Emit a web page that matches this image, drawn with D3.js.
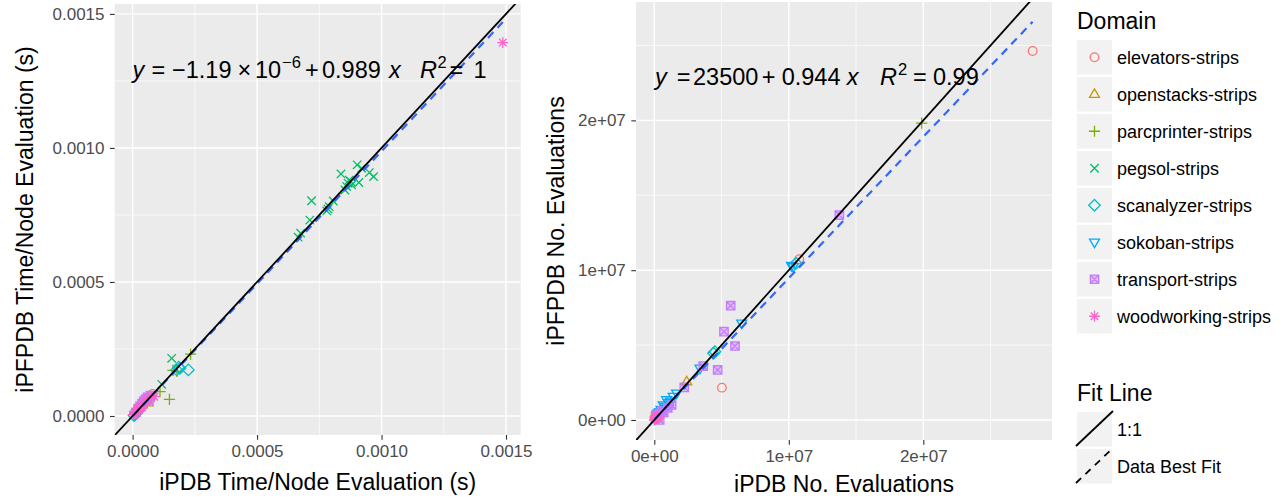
<!DOCTYPE html>
<html>
<head>
<meta charset="utf-8">
<script src="https://cdn.jsdelivr.net/npm/d3@7"></script>
<style>
  body { margin: 0; background: #fff; }
  svg { display: block; font-family: "Liberation Sans", Arial, sans-serif; }
</style>
</head>
<body>
<svg id="chart" width="1288" height="499"></svg>
<script>
"use strict";

// domains (legend order)
const domains = ["elevators-strips", "openstacks-strips", "parcprinter-strips", "pegsol-strips",
                 "scanalyzer-strips", "sokoban-strips", "transport-strips", "woodworking-strips"];
const domainColors = ["#F8766D", "#CD9600", "#7CAE00", "#00BE67", "#00BFC4", "#00A9FF", "#C77CFF", "#FF61CC"];
const domainShapes = ["circle", "triangle", "plus", "cross", "diamond", "triangleDown", "squareCross", "asterisk"];

// left panel: time per node evaluation (s), [iPDB, iPFPDB]
const timeElevators = [[2.0e-5, 2.4e-5], [4.2e-5, 4.0e-5], [6.8e-5, 7.4e-5], [8.0e-5, 8.2e-5]];
const timeOpenstacks = [[2.8e-5, 3.2e-5], [5.0e-5, 5.8e-5], [6.2e-5, 5.0e-5]];
const timeParcprinter = [[2.33e-4, 2.31e-4], [1.78e-4, 1.66e-4], [1.48e-4, 0.62e-4], [1.10e-4, 0.91e-4],
                         [1.62e-4, 1.70e-4], [4.0e-5, 3.0e-5]];
const timePegsol = [[9.02e-4, 9.37e-4], [8.37e-4, 9.03e-4], [9.51e-4, 9.08e-4], [9.68e-4, 8.93e-4],
                    [9.20e-4, 9.24e-4], [8.77e-4, 8.74e-4], [8.66e-4, 8.68e-4], [8.60e-4, 8.56e-4],
                    [9.09e-4, 8.71e-4], [8.53e-4, 8.43e-4], [8.80e-4, 8.62e-4], [8.70e-4, 8.80e-4],
                    [7.19e-4, 8.03e-4], [8.06e-4, 8.02e-4], [7.90e-4, 7.81e-4], [7.80e-4, 7.65e-4],
                    [7.85e-4, 7.72e-4], [7.12e-4, 7.31e-4], [6.75e-4, 6.82e-4], [6.65e-4, 6.67e-4],
                    [1.57e-4, 2.15e-4], [1.17e-4, 1.18e-4]];
const timeScanalyzer = [[1.90e-4, 1.78e-4], [2.24e-4, 1.72e-4], [1.77e-4, 1.72e-4], [1.85e-4, 1.82e-4],
                        [1.2e-5, 0.8e-5], [2.5e-5, 2.2e-5], [0.6e-5, 0.2e-5]];
const timeSokoban = [[1.0e-5, 0.5e-5], [1.8e-5, 1.6e-5], [3.0e-5, 2.6e-5], [4.5e-5, 4.2e-5]];
const timeTransport = [[3.0e-5, 3.6e-5], [4.5e-5, 5.5e-5], [5.2e-5, 6.2e-5], [6.0e-5, 7.0e-5],
                       [7.2e-5, 7.6e-5], [3.8e-5, 4.6e-5], [2.2e-5, 2.8e-5], [6.6e-5, 6.0e-5]];
const timeWoodworking = [[1.487e-3, 1.393e-3], [0.3e-5, 0.5e-5], [0.8e-5, 1.2e-5], [1.4e-5, 1.6e-5],
                         [2.0e-5, 2.4e-5], [2.6e-5, 2.2e-5], [3.2e-5, 3.6e-5], [3.8e-5, 3.4e-5],
                         [4.4e-5, 4.8e-5], [5.4e-5, 5.2e-5], [8.7e-5, 7.2e-5], [1.0e-5, 0.6e-5],
                         [1.8e-5, 1.2e-5], [2.8e-5, 3.0e-5], [6.0e-5, 6.6e-5], [7.4e-5, 6.8e-5]];

// right panel: number of evaluations, [iPDB, iPFPDB]
const evalElevators = [[2.813e7, 2.463e7], [1.078e7, 1.073e7], [0.503e7, 0.216e7], [0.010e7, 0.045e7],
                       [0.002e7, 0.010e7]];
const evalOpenstacks = [[0.241e7, 0.256e7], [0.100e7, 0.105e7], [0.050e7, 0.060e7], [0.020e7, 0.020e7]];
const evalParcprinter = [[1.988e7, 1.981e7], [0.010e7, 0.010e7]];
const evalPegsol = [[0.005e7, 0.005e7], [0.015e7, 0.012e7]];
const evalScanalyzer = [[1.054e7, 1.046e7], [0.451e7, 0.456e7], [0.440e7, 0.445e7], [0.100e7, 0.100e7],
                        [0.030e7, 0.030e7]];
const evalSokoban = [[1.033e7, 1.023e7], [1.020e7, 1.030e7], [0.650e7, 0.645e7], [0.340e7, 0.345e7],
                     [0.166e7, 0.178e7], [0.141e7, 0.156e7], [0.092e7, 0.134e7], [0.067e7, 0.100e7],
                     [0.050e7, 0.070e7], [0.030e7, 0.040e7], [0.120e7, 0.125e7], [0.080e7, 0.090e7],
                     [0.105e7, 0.115e7], [0.040e7, 0.055e7]];
const evalTransport = [[1.376e7, 1.368e7], [0.568e7, 0.763e7], [0.518e7, 0.590e7], [0.600e7, 0.494e7],
                       [0.364e7, 0.360e7], [0.471e7, 0.334e7], [0.223e7, 0.218e7], [0.129e7, 0.100e7],
                       [0.060e7, 0.060e7], [0.040e7, 0.045e7], [0.040e7, 0.000e7], [0.100e7, 0.080e7],
                       [0.020e7, 0.030e7], [0.070e7, 0.050e7]];
const evalWoodworking = [[0.000e7, 0.000e7], [0.010e7, 0.005e7], [0.020e7, 0.015e7], [0.005e7, 0.020e7],
                         [0.030e7, 0.010e7], [0.015e7, 0.025e7], [0.008e7, 0.012e7]];

const timeSeries = [timeElevators, timeOpenstacks, timeParcprinter, timePegsol,
                    timeScanalyzer, timeSokoban, timeTransport, timeWoodworking];
const evalSeries = [evalElevators, evalOpenstacks, evalParcprinter, evalPegsol,
                    evalScanalyzer, evalSokoban, evalTransport, evalWoodworking];

// fitted lines as printed on the chart
const timeFit = {intercept: -1.19e-6, slope: 0.989};
const evalFit = {intercept: 23500, slope: 0.944};

const timeTicks = [0, 0.0005, 0.001, 0.0015];
const timeTickLabels = ["0.0000", "0.0005", "0.0010", "0.0015"];
const timeMinor = [0.00025, 0.00075, 0.00125];
const evalTicks = [0, 1e7, 2e7];
const evalTickLabels = ["0e+00", "1e+07", "2e+07"];
const evalMinor = [0.5e7, 1.5e7, 2.5e7];

const fitLabels = ["1:1", "Data Best Fit"];

const svg = d3.select("#chart");

function shapePath(shape) {
    const p = d3.path();
    switch (shape) {
        case "circle": p.arc(0, 0, 4.3, 0, 2 * Math.PI); break;
        case "triangle": p.moveTo(0, -5.4); p.lineTo(5, 3.2); p.lineTo(-5, 3.2); p.closePath(); break;
        case "triangleDown": p.moveTo(0, 5.4); p.lineTo(5, -3.2); p.lineTo(-5, -3.2); p.closePath(); break;
        case "plus": p.moveTo(-5.6, 0); p.lineTo(5.6, 0); p.moveTo(0, -5.6); p.lineTo(0, 5.6); break;
        case "cross": p.moveTo(-4.2, -4.2); p.lineTo(4.2, 4.2); p.moveTo(-4.2, 4.2); p.lineTo(4.2, -4.2); break;
        case "diamond": p.moveTo(0, -5.8); p.lineTo(5.8, 0); p.lineTo(0, 5.8); p.lineTo(-5.8, 0); p.closePath(); break;
        case "squareCross":
            p.rect(-4.2, -4.2, 8.4, 8.4);
            p.moveTo(-4.2, -4.2); p.lineTo(4.2, 4.2); p.moveTo(-4.2, 4.2); p.lineTo(4.2, -4.2); break;
        case "asterisk":
            p.moveTo(-5.4, 0); p.lineTo(5.4, 0); p.moveTo(0, -5.4); p.lineTo(0, 5.4);
            p.moveTo(-3.8, -3.8); p.lineTo(3.8, 3.8); p.moveTo(-3.8, 3.8); p.lineTo(3.8, -3.8); break;
    }
    return p.toString();
}

function drawPanel(cfg) {
    const x = d3.scaleLinear().domain(cfg.xDomain).range([cfg.left, cfg.right]);
    const y = d3.scaleLinear().domain(cfg.yDomain).range([cfg.bottom, cfg.top]);
    const g = svg.append("g");

    g.append("rect")
        .attr("x", cfg.left).attr("y", cfg.top)
        .attr("width", cfg.right - cfg.left).attr("height", cfg.bottom - cfg.top)
        .attr("fill", "#EBEBEB");

    // grid
    g.selectAll(".minx").data(cfg.minor).enter().append("line")
        .attr("x1", d => x(d)).attr("x2", d => x(d)).attr("y1", cfg.top).attr("y2", cfg.bottom)
        .attr("stroke", "#fff").attr("stroke-width", 0.7);
    g.selectAll(".miny").data(cfg.minor).enter().append("line")
        .attr("y1", d => y(d)).attr("y2", d => y(d)).attr("x1", cfg.left).attr("x2", cfg.right)
        .attr("stroke", "#fff").attr("stroke-width", 0.7);
    g.selectAll(".majx").data(cfg.ticks).enter().append("line")
        .attr("x1", d => x(d)).attr("x2", d => x(d)).attr("y1", cfg.top).attr("y2", cfg.bottom)
        .attr("stroke", "#fff").attr("stroke-width", 1.4);
    g.selectAll(".majy").data(cfg.ticks).enter().append("line")
        .attr("y1", d => y(d)).attr("y2", d => y(d)).attr("x1", cfg.left).attr("x2", cfg.right)
        .attr("stroke", "#fff").attr("stroke-width", 1.4);

    // axes
    const fmt = (d, i) => cfg.tickLabels[i];
    const xAxis = d3.axisBottom(x).tickValues(cfg.ticks).tickFormat(fmt).tickSizeOuter(0).tickSize(4.7).tickPadding(5.5);
    const yAxis = d3.axisLeft(y).tickValues(cfg.ticks).tickFormat(fmt).tickSizeOuter(0).tickSize(4.7).tickPadding(5.5);
    [g.append("g").attr("transform", `translate(0,${cfg.bottom})`).call(xAxis),
     g.append("g").attr("transform", `translate(${cfg.left},0)`).call(yAxis)].forEach(ax => {
        ax.select(".domain").remove();
        ax.selectAll(".tick line").attr("stroke", "#333").attr("stroke-width", 1.1);
        ax.selectAll(".tick text").attr("fill", "#4D4D4D").style("font-size", "17px")
            .style("font-family", '"Liberation Sans", Arial, sans-serif');
    });

    // points
    const clip = "clip" + cfg.id;
    svg.append("clipPath").attr("id", clip).append("rect")
        .attr("x", cfg.left).attr("y", cfg.top)
        .attr("width", cfg.right - cfg.left).attr("height", cfg.bottom - cfg.top);
    const pts = g.append("g").attr("clip-path", `url(#${clip})`);
    cfg.series.forEach((series, i) => {
        pts.selectAll(null).data(series).enter().append("path")
            .attr("d", shapePath(domainShapes[i]))
            .attr("transform", d => `translate(${x(d[0])},${y(d[1])})`)
            .attr("fill", domainShapes[i] === "squareCross" ? "rgba(199,124,255,0.4)" : "none")
            .attr("stroke", domainColors[i]).attr("stroke-width", 1.3);
    });

    // best fit (dashed) over data x range
    const fx = d3.extent(cfg.series.flat(), d => d[0]);
    pts.append("line")
        .attr("x1", x(fx[0])).attr("y1", y(cfg.fit.intercept + cfg.fit.slope * fx[0]))
        .attr("x2", x(fx[1])).attr("y2", y(cfg.fit.intercept + cfg.fit.slope * fx[1]))
        .attr("stroke", "#3366FF").attr("stroke-width", 2.2).attr("stroke-dasharray", "8,6");

    // 1:1 line
    const lo = Math.min(cfg.xDomain[0], cfg.yDomain[0]), hi = Math.max(cfg.xDomain[1], cfg.yDomain[1]);
    pts.append("line")
        .attr("x1", x(lo)).attr("y1", y(lo)).attr("x2", x(hi)).attr("y2", y(hi))
        .attr("stroke", "#000").attr("stroke-width", 1.8);

    // equation, laid out like R plotmath
    const eq = g.append("text").attr("y", cfg.eqY).style("font-size", "23.5px").attr("fill", "#000");
    cfg.eqParts.forEach(part => {
        const t = eq.append("tspan").attr("x", cfg.eqX + part.at).text(part.t);
        if (part.it) t.style("font-style", "italic");
        if (part.sup) t.attr("y", cfg.eqY - 10).style("font-size", "16.5px");
        else t.attr("y", cfg.eqY);
    });

    // axis titles
    g.append("text").attr("x", (cfg.left + cfg.right) / 2).attr("y", cfg.xTitleY)
        .attr("text-anchor", "middle").style("font-size", "23px").text(cfg.xTitle);
    g.append("text")
        .attr("transform", `translate(${cfg.yTitleX},${(cfg.top + cfg.bottom) / 2}) rotate(-90)`)
        .attr("text-anchor", "middle").style("font-size", "23px").text(cfg.yTitle);
}

drawPanel({
    id: "time", left: 114.7, right: 520.7, top: 4, bottom: 435,
    xDomain: [-0.0000719, 0.001559], yDomain: [-0.0000709, 0.001537],
    ticks: timeTicks, tickLabels: timeTickLabels, minor: timeMinor,
    series: timeSeries, fit: timeFit,
    xTitle: "iPDB Time/Node Evaluation (s)", yTitle: "iPFPDB Time/Node Evaluation (s)",
    xTitleY: 490, yTitleX: 33,
    eqX: 132.6, eqY: 78,
    eqParts: [{t: "y", it: true, at: 0}, {t: "=", at: 19}, {t: "\u22121.19", at: 39.4}, {t: "\u00d7", at: 105},
              {t: "10", at: 122.4}, {t: "\u22126", sup: true, at: 149.4}, {t: "+", at: 172.4},
              {t: "0.989", at: 189.4}, {t: "x", it: true, at: 256.4}, {t: "R", it: true, at: 287.4},
              {t: "2", sup: true, at: 305}, {t: "=", at: 317}, {t: "1", at: 341}]
});

drawPanel({
    id: "eval", left: 636, right: 1052, top: 2, bottom: 440,
    xDomain: [-0.136e7, 2.957e7], yDomain: [-0.1335e7, 2.790e7],
    ticks: evalTicks, tickLabels: evalTickLabels, minor: evalMinor,
    series: evalSeries, fit: evalFit,
    xTitle: "iPDB No. Evaluations", yTitle: "iPFPDB No. Evaluations",
    xTitleY: 492, yTitleX: 564,
    eqX: 655, eqY: 85,
    eqParts: [{t: "y", it: true, at: 0}, {t: "=", at: 21.7}, {t: "23500", at: 38}, {t: "+", at: 106.7},
              {t: "0.944", at: 126.7}, {t: "x", it: true, at: 191.7}, {t: "R", it: true, at: 225},
              {t: "2", sup: true, at: 243}, {t: "=", at: 258}, {t: "0.99", at: 278}]
});

// legends
const legend = svg.append("g").attr("transform", "translate(1077,0)");
legend.append("text").attr("x", 0).attr("y", 29).style("font-size", "23px").text("Domain");
const rows = legend.selectAll(".row").data(domains).enter().append("g")
    .attr("transform", (d, i) => `translate(0,${40 + i * 37})`);
rows.append("rect").attr("width", 35).attr("height", 34.5).attr("fill", "#F2F2F2");
rows.append("path")
    .attr("d", (d, i) => shapePath(domainShapes[i]))
    .attr("transform", "translate(17.5,17.25)")
    .attr("fill", (d, i) => domainShapes[i] === "squareCross" ? "rgba(199,124,255,0.4)" : "none")
    .attr("stroke", (d, i) => domainColors[i]).attr("stroke-width", 1.3);
rows.append("text").attr("x", 40).attr("y", 23.5).style("font-size", "18px").text(d => d);

legend.append("text").attr("x", 0).attr("y", 401).style("font-size", "23px").text("Fit Line");
const frows = legend.selectAll(".frow").data(fitLabels).enter().append("g")
    .attr("transform", (d, i) => `translate(0,${412 + i * 37})`);
frows.append("rect").attr("width", 35).attr("height", 34.5).attr("fill", "#F2F2F2");
frows.append("line").attr("x1", -1).attr("y1", 34).attr("x2", 36).attr("y2", -1)
    .attr("stroke", "#000").attr("stroke-width", 1.8)
    .attr("stroke-dasharray", (d, i) => i === 1 ? "7,6" : null);
frows.append("text").attr("x", 40).attr("y", 23.5).style("font-size", "18px").text(d => d);
</script>
</body>
</html>
